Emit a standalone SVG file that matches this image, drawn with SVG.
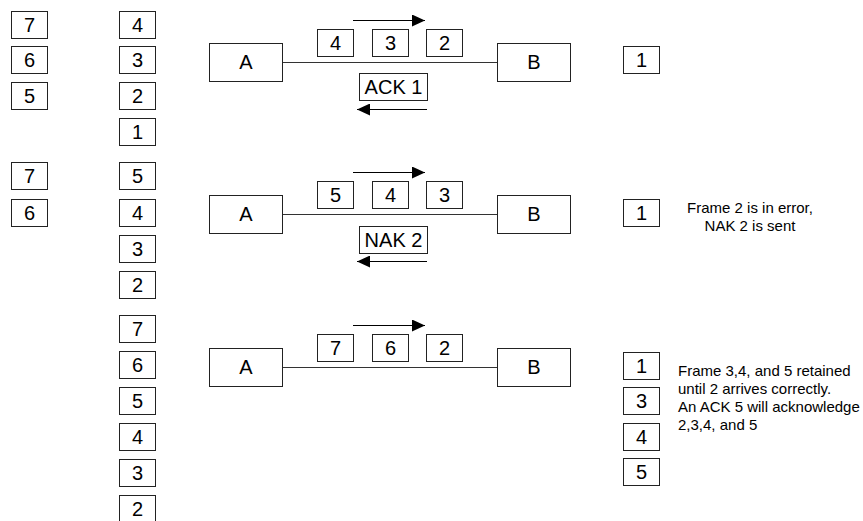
<svg xmlns="http://www.w3.org/2000/svg" width="863" height="521" viewBox="0 0 863 521">
  <style>
    .box { fill: #fff; stroke: #222; stroke-width: 1; }
    .num { font-family: "Liberation Sans", Arial, sans-serif; font-size: 20px; fill: #000; text-anchor: middle; }
    .lbl { font-family: "Liberation Sans", Arial, sans-serif; font-size: 20px; fill: #000; text-anchor: middle; }
    .note { font-family: "Liberation Sans", Arial, sans-serif; font-size: 15px; fill: #000; }
    .link { stroke: #333; stroke-width: 1; fill: none; }
    .dir { stroke: #000; stroke-width: 1; fill: none; }
  </style>
  <defs>
    <marker id="head" viewBox="0 0 13 12" refX="13" refY="6" markerWidth="13" markerHeight="12" markerUnits="userSpaceOnUse" orient="auto">
      <path d="M0,0 L13,6 L0,12 Z" fill="#000"/>
    </marker>
    <!-- a single frame box, 36 x 27 -->
    <rect id="frame" class="box" width="36" height="27"/>
  </defs>

  <!-- ===== Step 1: frames 2,3,4 in transit, ACK 1 returned ===== -->
  <g id="s1-sender-buffer">
    <use href="#frame" x="11.5" y="11.5"/><text class="num" x="29.5" y="32">7</text>
    <use href="#frame" x="11.5" y="46.5"/><text class="num" x="29.5" y="67">6</text>
    <use href="#frame" x="11.5" y="82.5"/><text class="num" x="29.5" y="103">5</text>
  </g>
  <g id="s1-sender-window">
    <use href="#frame" x="119.5" y="11.5"/><text class="num" x="137.5" y="32">4</text>
    <use href="#frame" x="119.5" y="46.5"/><text class="num" x="137.5" y="67">3</text>
    <use href="#frame" x="119.5" y="82.5"/><text class="num" x="137.5" y="103">2</text>
    <use href="#frame" x="119.5" y="118.5"/><text class="num" x="137.5" y="139">1</text>
  </g>
  <g id="s1-connectors">
    <line class="link" x1="282" y1="62.5" x2="497" y2="62.5"/>
    <line class="dir" x1="353" y1="20.5" x2="425" y2="20.5" marker-end="url(#head)"/>
    <line class="dir" x1="427" y1="109.5" x2="357" y2="109.5" marker-end="url(#head)"/>
  </g>
  <g id="s1-A"><rect class="box" x="209.5" y="43.5" width="73" height="38"/><text class="lbl" x="246" y="69">A</text></g>
  <g id="s1-B"><rect class="box" x="497.5" y="43.5" width="73" height="38"/><text class="lbl" x="534" y="69">B</text></g>
  <g id="s1-transit">
    <use href="#frame" x="317.5" y="29.5"/><text class="num" x="335.5" y="50">4</text>
    <use href="#frame" x="372.5" y="29.5"/><text class="num" x="390.5" y="50">3</text>
    <use href="#frame" x="426.5" y="29.5"/><text class="num" x="444.5" y="50">2</text>
  </g>
  <g id="s1-ack"><rect class="box" x="359.5" y="73.5" width="68" height="27"/><text class="lbl" x="393.5" y="94">ACK 1</text></g>
  <g id="s1-receiver">
    <use href="#frame" x="623.5" y="46.5"/><text class="num" x="641.5" y="67">1</text>
  </g>

  <!-- ===== Step 2: frame 2 damaged, NAK 2 returned ===== -->
  <g id="s2-sender-buffer">
    <use href="#frame" x="11.5" y="162.5"/><text class="num" x="29.5" y="183">7</text>
    <use href="#frame" x="11.5" y="199.5"/><text class="num" x="29.5" y="220">6</text>
  </g>
  <g id="s2-sender-window">
    <use href="#frame" x="119.5" y="162.5"/><text class="num" x="137.5" y="183">5</text>
    <use href="#frame" x="119.5" y="199.5"/><text class="num" x="137.5" y="220">4</text>
    <use href="#frame" x="119.5" y="235.5"/><text class="num" x="137.5" y="256">3</text>
    <use href="#frame" x="119.5" y="271.5"/><text class="num" x="137.5" y="292">2</text>
  </g>
  <g id="s2-connectors">
    <line class="link" x1="282" y1="214.5" x2="497" y2="214.5"/>
    <line class="dir" x1="353" y1="172.5" x2="425" y2="172.5" marker-end="url(#head)"/>
    <line class="dir" x1="427" y1="261.5" x2="357" y2="261.5" marker-end="url(#head)"/>
  </g>
  <g id="s2-A"><rect class="box" x="209.5" y="195.5" width="73" height="38"/><text class="lbl" x="246" y="221">A</text></g>
  <g id="s2-B"><rect class="box" x="497.5" y="195.5" width="73" height="38"/><text class="lbl" x="534" y="221">B</text></g>
  <g id="s2-transit">
    <use href="#frame" x="317.5" y="181.5"/><text class="num" x="335.5" y="202">5</text>
    <use href="#frame" x="372.5" y="181.5"/><text class="num" x="390.5" y="202">4</text>
    <use href="#frame" x="426.5" y="181.5"/><text class="num" x="444.5" y="202">3</text>
  </g>
  <g id="s2-nak"><rect class="box" x="359.5" y="226.5" width="68" height="27"/><text class="lbl" x="393.5" y="247">NAK 2</text></g>
  <g id="s2-receiver">
    <use href="#frame" x="623.5" y="199.5"/><text class="num" x="641.5" y="220">1</text>
  </g>
  <g id="s2-note">
    <text class="note" x="750" y="213" text-anchor="middle">Frame 2 is in error,</text>
    <text class="note" x="750" y="231" text-anchor="middle">NAK 2 is sent</text>
  </g>

  <!-- ===== Step 3: frame 2 resent, 3,4,5 held at receiver ===== -->
  <g id="s3-sender-window">
    <use href="#frame" x="119.5" y="315.5"/><text class="num" x="137.5" y="336">7</text>
    <use href="#frame" x="119.5" y="351.5"/><text class="num" x="137.5" y="372">6</text>
    <use href="#frame" x="119.5" y="387.5"/><text class="num" x="137.5" y="408">5</text>
    <use href="#frame" x="119.5" y="423.5"/><text class="num" x="137.5" y="444">4</text>
    <use href="#frame" x="119.5" y="459.5"/><text class="num" x="137.5" y="480">3</text>
    <use href="#frame" x="119.5" y="495.5"/><text class="num" x="137.5" y="516">2</text>
  </g>
  <g id="s3-connectors">
    <line class="link" x1="282" y1="367.5" x2="497" y2="367.5"/>
    <line class="dir" x1="353" y1="325.5" x2="425" y2="325.5" marker-end="url(#head)"/>
  </g>
  <g id="s3-A"><rect class="box" x="209.5" y="348.5" width="73" height="38"/><text class="lbl" x="246" y="374">A</text></g>
  <g id="s3-B"><rect class="box" x="497.5" y="348.5" width="73" height="38"/><text class="lbl" x="534" y="374">B</text></g>
  <g id="s3-transit">
    <use href="#frame" x="317.5" y="334.5"/><text class="num" x="335.5" y="355">7</text>
    <use href="#frame" x="372.5" y="334.5"/><text class="num" x="390.5" y="355">6</text>
    <use href="#frame" x="426.5" y="334.5"/><text class="num" x="444.5" y="355">2</text>
  </g>
  <g id="s3-receiver">
    <use href="#frame" x="623.5" y="352.5"/><text class="num" x="641.5" y="373">1</text>
    <use href="#frame" x="623.5" y="387.5"/><text class="num" x="641.5" y="408">3</text>
    <use href="#frame" x="623.5" y="423.5"/><text class="num" x="641.5" y="444">4</text>
    <use href="#frame" x="623.5" y="458.5"/><text class="num" x="641.5" y="479">5</text>
  </g>
  <g id="s3-note">
    <text class="note" x="678" y="376">Frame 3,4, and 5 retained</text>
    <text class="note" x="678" y="394">until 2 arrives correctly.</text>
    <text class="note" x="678" y="412">An ACK 5 will acknowledge</text>
    <text class="note" x="678" y="430">2,3,4, and 5</text>
  </g>
</svg>
